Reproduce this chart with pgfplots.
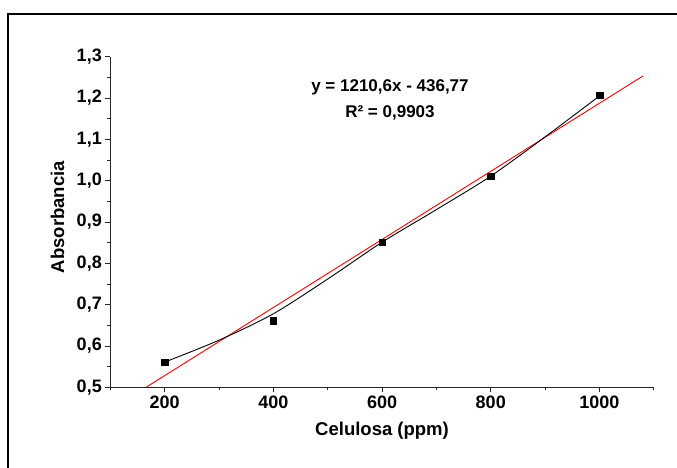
\documentclass[border=0pt]{standalone}
\usepackage{pgfplots}
\pgfplotsset{compat=1.18}
\usepackage{fontspec}
\setmainfont{Liberation Sans}

\begin{document}
\begin{tikzpicture}
    \begin{axis}[
            at={(0,0)}, anchor=south west,
            scale only axis,
            width=543.5pt, height=330.6pt,
            xmin=100, xmax=1100,
            ymin=0.5, ymax=1.3,
            axis x line*=bottom,
            axis y line*=left,
            axis line style={-, line width=1.2pt, black!85},
            tick align=outside,
            major tick length=5pt,
            minor tick length=3pt,
            tick style={line width=0.9pt, black!85},
            xtick={200,400,...,1000},
            minor xtick={100,300,...,1100},
            ytick={0.5,0.6,...,1.3},
            minor ytick={0.55,0.65,...,1.25},
            /pgf/number format/assume math mode=true,
            x tick label style={/pgf/number format/1000 sep={}},
            y tick label style={/pgf/number format/.cd, fixed, fixed zerofill, precision=1, use comma},
            tick label style={font=\fontsize{18}{20}\selectfont\bfseries},
            xlabel={Celulosa (ppm)},
            ylabel={Absorbancia},
            label style={font=\fontsize{18.5}{21}\selectfont\bfseries},
            x label style={at={(axis description cs:0.5,-0.132)}, anchor=center},
            y label style={at={(axis description cs:-0.097,0.515)}, anchor=center},
        ]
        % ajuste lineal
        \addplot[red, line width=0.9pt] coordinates {
                (165.7,0.5) (1079.6,1.253)
            };
        % curva suavizada
        \addplot[black, line width=0.9pt, smooth] coordinates {
                (200,0.561) (300,0.614) (400,0.678)
                (500,0.762) (600,0.851) (700,0.930) (800,1.011)
                (900,1.106) (1000,1.205)
            };
        % datos medidos
        \addplot[only marks, mark=square*, mark size=3.3pt, black] coordinates {
                (200,0.561) (400,0.661) (600,0.851) (800,1.011) (1000,1.207)
            };
        \node[font=\fontsize{17}{19}\selectfont\bfseries] at (axis cs:614.6,1.2266) {y = 1210,6x - 436,77};
        \node[font=\fontsize{17}{19}\selectfont\bfseries] at (axis cs:614.6,1.1637) {R² = 0,9903};
    \end{axis}
    \pgfresetboundingbox
    \path[use as bounding box] (-110.3pt,-80.7pt) rectangle (566.7pt,387.3pt);
    \draw[line width=2pt] (-102.3pt,-82pt) -- (-102.3pt,373.3pt) -- (568pt,373.3pt);
\end{tikzpicture}
\end{document}
